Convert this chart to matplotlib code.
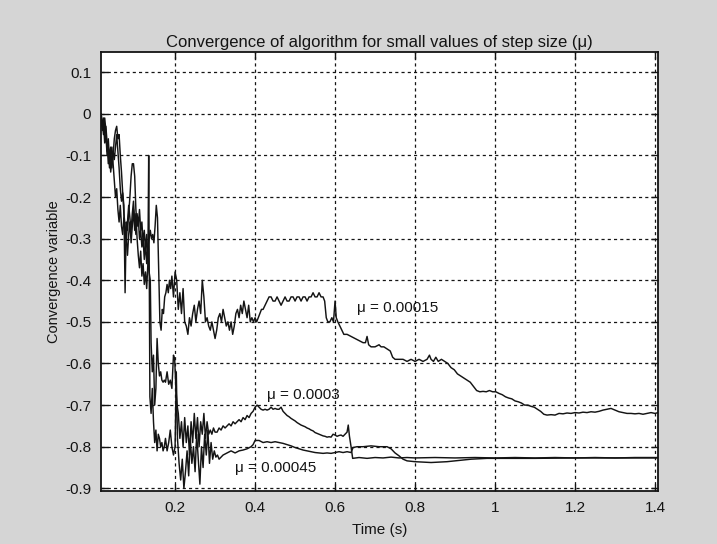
"""Convergence of algorithm for small values of step size (mu) - MATLAB style plot."""
import matplotlib
matplotlib.use("Agg")
import matplotlib.pyplot as plt

BG = "#d5d5d5"
INK = "#141414"
FONT = ["Liberation Sans", "DejaVu Sans"]

plt.rcParams.update({
    "font.family": FONT,
    "figure.facecolor": BG,
    "savefig.facecolor": BG,
})

# ---- data (time in s, convergence variable) ----
# mu = 0.00015
t_a = [0.015, 0.018, 0.021, 0.024, 0.027, 0.030, 0.033, 0.036, 0.039, 0.042,
       0.045, 0.048, 0.051, 0.054, 0.057, 0.060, 0.063, 0.066, 0.069, 0.072,
       0.075, 0.078, 0.081, 0.084, 0.087, 0.090, 0.093, 0.096, 0.099, 0.102,
       0.105, 0.108, 0.111, 0.114, 0.117, 0.120, 0.123, 0.126, 0.129, 0.132,
       0.135, 0.138, 0.141, 0.144, 0.147, 0.150, 0.153, 0.156, 0.159, 0.162,
       0.165, 0.168, 0.171, 0.174, 0.177, 0.180, 0.183, 0.186, 0.189, 0.192,
       0.196, 0.200, 0.204, 0.208, 0.212, 0.216, 0.220, 0.224, 0.228, 0.232,
       0.236, 0.240, 0.244, 0.248, 0.252, 0.256, 0.260, 0.264, 0.268, 0.272,
       0.276, 0.280, 0.284, 0.288, 0.292, 0.296, 0.300, 0.304, 0.308, 0.312,
       0.316, 0.320, 0.324, 0.328, 0.332, 0.336, 0.340, 0.344, 0.348, 0.352,
       0.356, 0.360, 0.364, 0.368, 0.372, 0.376, 0.380, 0.384, 0.388, 0.392,
       0.396, 0.400, 0.404, 0.408, 0.412, 0.416, 0.420, 0.425, 0.430, 0.435,
       0.440, 0.445, 0.450, 0.455, 0.460, 0.465, 0.470, 0.475, 0.480, 0.485,
       0.490, 0.495, 0.500, 0.505, 0.510, 0.515, 0.520, 0.525, 0.530, 0.535,
       0.540, 0.545, 0.550, 0.555, 0.560, 0.565, 0.570, 0.574, 0.578, 0.582,
       0.587, 0.592, 0.596, 0.600, 0.603, 0.607, 0.612, 0.617, 0.622, 0.630,
       0.640, 0.650, 0.660, 0.670, 0.676, 0.680, 0.684, 0.690, 0.700, 0.710,
       0.715, 0.722, 0.730, 0.738, 0.744, 0.750, 0.760, 0.770, 0.780, 0.790,
       0.800, 0.810, 0.820, 0.830, 0.836, 0.840, 0.846, 0.852, 0.858, 0.866,
       0.874, 0.882, 0.890, 0.898, 0.906, 0.914, 0.922, 0.930, 0.938, 0.946,
       0.954, 0.962, 0.970, 0.978, 0.986, 0.994, 1.002, 1.010, 1.018, 1.026,
       1.034, 1.042, 1.050, 1.058, 1.066, 1.074, 1.082, 1.090, 1.098, 1.106,
       1.114, 1.122, 1.130, 1.140, 1.150, 1.160, 1.170, 1.180, 1.190, 1.200,
       1.210, 1.220, 1.230, 1.240, 1.250, 1.260, 1.270, 1.280, 1.290, 1.300,
       1.310, 1.320, 1.330, 1.340, 1.350, 1.360, 1.370, 1.380, 1.390, 1.400,
       1.408]
v_a = [0.0, -0.02, -0.05, -0.01, -0.04, -0.09, -0.06, -0.11, -0.08, -0.13,
       -0.10, -0.06, -0.04, -0.03, -0.06, -0.05, -0.10, -0.14, -0.19, -0.22,
       -0.43, -0.26, -0.28, -0.24, -0.20, -0.15, -0.12, -0.12, -0.15, -0.23,
       -0.27, -0.25, -0.30, -0.28, -0.32, -0.30, -0.35, -0.31, -0.36, -0.32,
       -0.30, -0.28, -0.30, -0.29, -0.31, -0.27, -0.22, -0.25, -0.38, -0.50,
       -0.52, -0.47, -0.48, -0.44, -0.43, -0.41, -0.43, -0.40, -0.42, -0.39,
       -0.44, -0.38, -0.40, -0.47, -0.43, -0.48, -0.42, -0.50, -0.51, -0.53,
       -0.49, -0.51, -0.48, -0.46, -0.50, -0.47, -0.45, -0.48, -0.40, -0.44,
       -0.50, -0.49, -0.51, -0.52, -0.50, -0.52, -0.54, -0.52, -0.49, -0.48,
       -0.50, -0.47, -0.49, -0.51, -0.50, -0.52, -0.50, -0.53, -0.51, -0.48,
       -0.47, -0.49, -0.46, -0.48, -0.45, -0.47, -0.49, -0.46, -0.50, -0.49,
       -0.50, -0.49, -0.50, -0.49, -0.48, -0.47, -0.47, -0.46, -0.45, -0.44,
       -0.44, -0.45, -0.45, -0.44, -0.45, -0.46, -0.45, -0.44, -0.45, -0.45,
       -0.44, -0.44, -0.45, -0.44, -0.44, -0.45, -0.44, -0.44, -0.45, -0.44,
       -0.44, -0.43, -0.44, -0.44, -0.43, -0.44, -0.44, -0.45, -0.49, -0.50,
       -0.50, -0.49, -0.50, -0.45, -0.49, -0.50, -0.51, -0.52, -0.53, -0.53,
       -0.535, -0.54, -0.545, -0.55, -0.55, -0.535, -0.555, -0.56, -0.56, -0.555,
       -0.56, -0.56, -0.565, -0.57, -0.585, -0.59, -0.59, -0.59, -0.595, -0.59,
       -0.595, -0.59, -0.595, -0.59, -0.58, -0.59, -0.595, -0.585, -0.595, -0.59,
       -0.595, -0.60, -0.61, -0.615, -0.625, -0.63, -0.635, -0.64, -0.645, -0.655,
       -0.665, -0.668, -0.667, -0.668, -0.665, -0.668, -0.668, -0.672, -0.675, -0.68,
       -0.683, -0.685, -0.69, -0.692, -0.695, -0.70, -0.70, -0.703, -0.705, -0.71,
       -0.715, -0.722, -0.724, -0.723, -0.724, -0.72, -0.721, -0.719, -0.72, -0.718,
       -0.719, -0.717, -0.718, -0.716, -0.717, -0.715, -0.712, -0.71, -0.708, -0.712,
       -0.716, -0.718, -0.72, -0.72, -0.721, -0.72, -0.722, -0.72, -0.718, -0.72,
       -0.718]

# mu = 0.0003
t_b = [0.015, 0.018, 0.021, 0.024, 0.027, 0.030, 0.033, 0.036, 0.039, 0.042,
       0.045, 0.048, 0.051, 0.054, 0.057, 0.060, 0.063, 0.066, 0.069, 0.072,
       0.075, 0.078, 0.081, 0.084, 0.087, 0.090, 0.093, 0.096, 0.099, 0.102,
       0.105, 0.108, 0.111, 0.114, 0.117, 0.120, 0.123, 0.126, 0.129, 0.132,
       0.135, 0.138, 0.140, 0.143, 0.146, 0.149, 0.152, 0.155, 0.158, 0.161,
       0.164, 0.167, 0.170, 0.173, 0.176, 0.180, 0.184, 0.188, 0.192, 0.196,
       0.199, 0.202, 0.205, 0.208, 0.212, 0.216, 0.220, 0.224, 0.228, 0.232,
       0.236, 0.240, 0.244, 0.248, 0.252, 0.256, 0.260, 0.264, 0.268, 0.272,
       0.276, 0.280, 0.284, 0.288, 0.292, 0.296, 0.300, 0.305, 0.310, 0.315,
       0.320, 0.325, 0.330, 0.335, 0.340, 0.345, 0.350, 0.355, 0.360, 0.365,
       0.370, 0.375, 0.380, 0.385, 0.390, 0.395, 0.400, 0.405, 0.410, 0.415,
       0.420, 0.425, 0.430, 0.435, 0.440, 0.445, 0.450, 0.455, 0.460, 0.465,
       0.470, 0.475, 0.480, 0.485, 0.490, 0.495, 0.500, 0.505, 0.510, 0.515,
       0.520, 0.525, 0.530, 0.535, 0.540, 0.545, 0.550, 0.555, 0.560, 0.565,
       0.570, 0.575, 0.580, 0.585, 0.590, 0.595, 0.600, 0.605, 0.610, 0.615,
       0.620, 0.625, 0.630, 0.633, 0.636, 0.640, 0.644, 0.660, 0.680, 0.700,
       0.720, 0.740, 0.760, 0.780, 0.800, 0.850, 0.900, 0.950, 1.000, 1.050,
       1.100, 1.150, 1.200, 1.250, 1.300, 1.350, 1.408]
v_b = [-0.01, -0.04, -0.02, -0.07, -0.05, -0.10, -0.08, -0.13, -0.10, -0.08,
       -0.12, -0.16, -0.20, -0.18, -0.23, -0.26, -0.22, -0.27, -0.29, -0.25,
       -0.28, -0.31, -0.26, -0.22, -0.25, -0.28, -0.24, -0.21, -0.26, -0.29,
       -0.24, -0.27, -0.23, -0.28, -0.26, -0.31, -0.28, -0.33, -0.29, -0.35,
       -0.38, -0.40, -0.55, -0.62, -0.58, -0.70, -0.66, -0.54, -0.60, -0.63,
       -0.62, -0.64, -0.645, -0.64, -0.645, -0.62, -0.65, -0.64, -0.66, -0.58,
       -0.59, -0.66, -0.70, -0.72, -0.78, -0.74, -0.80, -0.73, -0.79, -0.75,
       -0.82, -0.74, -0.79, -0.72, -0.78, -0.73, -0.80, -0.74, -0.77, -0.72,
       -0.78, -0.74, -0.77, -0.76, -0.77, -0.755, -0.765, -0.765, -0.755, -0.76,
       -0.75, -0.755, -0.75, -0.745, -0.75, -0.74, -0.745, -0.74, -0.735, -0.74,
       -0.73, -0.735, -0.725, -0.73, -0.72, -0.715, -0.705, -0.70, -0.705, -0.71,
       -0.712, -0.71, -0.712, -0.71, -0.705, -0.71, -0.708, -0.71, -0.71, -0.705,
       -0.715, -0.72, -0.725, -0.728, -0.732, -0.735, -0.738, -0.742, -0.745, -0.748,
       -0.75, -0.752, -0.755, -0.757, -0.76, -0.762, -0.766, -0.768, -0.77, -0.772,
       -0.774, -0.775, -0.777, -0.776, -0.777, -0.77, -0.772, -0.775, -0.773, -0.772,
       -0.775, -0.77, -0.765, -0.748, -0.775, -0.80, -0.828, -0.826, -0.828, -0.826,
       -0.827, -0.825, -0.827, -0.826, -0.827, -0.826, -0.827, -0.826, -0.827, -0.826,
       -0.827, -0.826, -0.827, -0.826, -0.827, -0.826, -0.826]

# mu = 0.00045
t_c = [0.015, 0.018, 0.021, 0.024, 0.027, 0.030, 0.033, 0.036, 0.039, 0.042,
       0.045, 0.048, 0.051, 0.054, 0.057, 0.060, 0.063, 0.066, 0.069, 0.072,
       0.075, 0.078, 0.081, 0.084, 0.087, 0.090, 0.093, 0.096, 0.099, 0.102,
       0.105, 0.108, 0.111, 0.114, 0.117, 0.120, 0.123, 0.126, 0.129, 0.132,
       0.134, 0.137, 0.140, 0.143, 0.146, 0.149, 0.152, 0.155, 0.158, 0.161,
       0.164, 0.167, 0.170, 0.173, 0.176, 0.180, 0.184, 0.188, 0.192, 0.196,
       0.200, 0.203, 0.206, 0.210, 0.214, 0.218, 0.222, 0.226, 0.230, 0.234,
       0.238, 0.242, 0.246, 0.250, 0.254, 0.258, 0.262, 0.266, 0.270, 0.274,
       0.278, 0.282, 0.286, 0.290, 0.294, 0.298, 0.302, 0.306, 0.310, 0.320,
       0.330, 0.340, 0.350, 0.360, 0.370, 0.380, 0.390, 0.395, 0.400, 0.410,
       0.420, 0.430, 0.440, 0.450, 0.460, 0.470, 0.480, 0.490, 0.500, 0.510,
       0.520, 0.530, 0.540, 0.550, 0.560, 0.570, 0.580, 0.590, 0.600, 0.610,
       0.620, 0.630, 0.640, 0.645, 0.655, 0.670, 0.690, 0.710, 0.730, 0.740,
       0.750, 0.760, 0.770, 0.780, 0.790, 0.800, 0.820, 0.840, 0.860, 0.880,
       0.900, 0.920, 0.940, 0.960, 0.980, 1.000, 1.100, 1.200, 1.300, 1.408]
v_c = [0.0, -0.03, -0.01, -0.05, -0.03, -0.07, -0.12, -0.09, -0.14, -0.11,
       -0.09, -0.11, -0.08, -0.05, -0.09, -0.13, -0.18, -0.21, -0.19, -0.24,
       -0.27, -0.30, -0.34, -0.29, -0.26, -0.31, -0.27, -0.23, -0.28, -0.24,
       -0.30, -0.34, -0.37, -0.33, -0.39, -0.36, -0.41, -0.38, -0.42, -0.36,
       -0.10, -0.68, -0.72, -0.66, -0.74, -0.79, -0.76, -0.81, -0.77, -0.78,
       -0.80, -0.79, -0.81, -0.80, -0.78, -0.81, -0.79, -0.76, -0.80, -0.82,
       -0.80, -0.62, -0.78, -0.84, -0.88, -0.83, -0.90, -0.86, -0.81, -0.87,
       -0.78, -0.84, -0.80, -0.86, -0.77, -0.83, -0.89, -0.80, -0.85, -0.77,
       -0.82, -0.76, -0.84, -0.79, -0.83, -0.81, -0.825, -0.82, -0.83, -0.82,
       -0.815, -0.81, -0.815, -0.81, -0.808, -0.805, -0.80, -0.795, -0.785, -0.785,
       -0.79, -0.788, -0.79, -0.788, -0.79, -0.792, -0.795, -0.798, -0.802, -0.805,
       -0.808, -0.81, -0.812, -0.814, -0.815, -0.816, -0.815, -0.816, -0.814, -0.812,
       -0.814, -0.812, -0.814, -0.802, -0.80, -0.80, -0.798, -0.80, -0.80, -0.805,
       -0.815, -0.822, -0.83, -0.834, -0.835, -0.836, -0.837, -0.838, -0.837, -0.836,
       -0.834, -0.832, -0.83, -0.829, -0.828, -0.828, -0.828, -0.827, -0.827, -0.827]

x_ticks = [0.2, 0.4, 0.6, 0.8, 1.0, 1.2, 1.4]
x_ticklabels = ["0.2", "0.4", "0.6", "0.8", "1", "1.2", "1.4"]
y_ticks = [0.1, 0.0, -0.1, -0.2, -0.3, -0.4, -0.5, -0.6, -0.7, -0.8, -0.9]
y_ticklabels = ["0.1", "0", "-0.1", "-0.2", "-0.3", "-0.4", "-0.5",
                "-0.6", "-0.7", "-0.8", "-0.9"]

curve_labels = ["\u03bc = 0.00015", "\u03bc = 0.0003", "\u03bc = 0.00045"]
label_pos = [(0.655, -0.467), (0.43, -0.675), (0.35, -0.85)]

fig = plt.figure(figsize=(7.17, 5.44), dpi=100)
ax = fig.add_axes([0.141, 0.097, 0.777, 0.807])
ax.set_facecolor("white")

for t, v in [(t_a, v_a), (t_b, v_b), (t_c, v_c)]:
    ax.plot(t, v, color=INK, lw=1.05)

for txt, (x, y) in zip(curve_labels, label_pos):
    ax.text(x, y, txt, fontsize=11, color=INK, ha="left", va="center")

ax.set_xlim(0.015, 1.408)
ax.set_ylim(-0.907, 0.148)
ax.set_xticks(x_ticks)
ax.set_xticklabels(x_ticklabels)
ax.set_yticks(y_ticks)
ax.set_yticklabels(y_ticklabels)
ax.tick_params(direction="in", length=5, width=1, labelsize=11, colors=INK,
               top=True, right=True, pad=7)
ax.grid(True, color=INK, linestyle=(0, (2.5, 2.5)), linewidth=0.9)
for sp in ax.spines.values():
    sp.set_color(INK)
    sp.set_linewidth(1.3)

ax.set_title("Convergence of algorithm for small values of step size (\u03bc)",
             fontsize=12, color=INK, pad=4)
ax.set_xlabel("Time (s)", fontsize=11, color=INK, labelpad=6)
ax.set_ylabel("Convergence variable", fontsize=10.5, color=INK, labelpad=3)

fig.savefig("out.png", dpi=100)
